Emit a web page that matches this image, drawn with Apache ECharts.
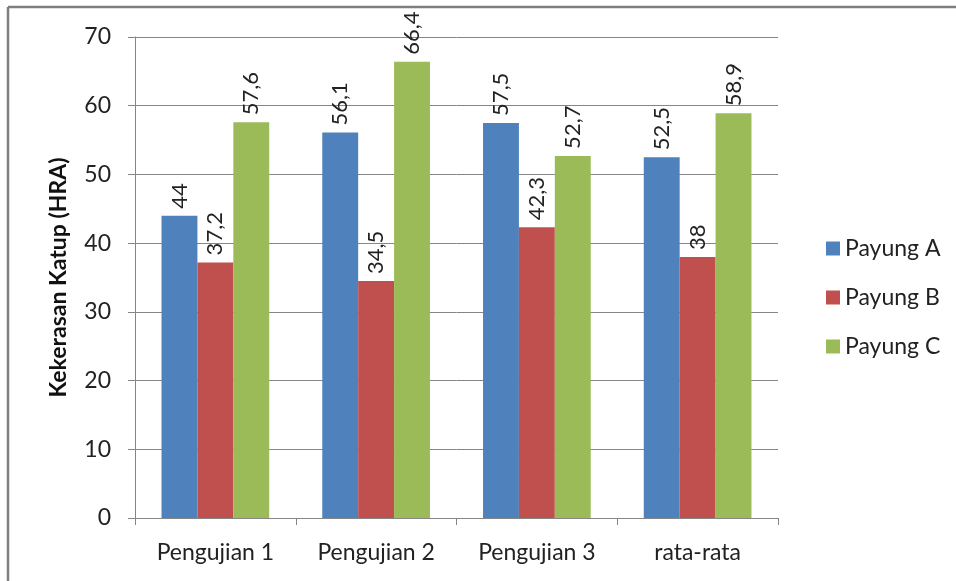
<!DOCTYPE html>
<html>
<head>
<meta charset="utf-8">
<script src="https://cdn.jsdelivr.net/npm/echarts@6/dist/echarts.min.js"></script>
<style>
  html, body { margin: 0; padding: 0; background: #fff; }
  #chart { width: 956px; height: 581px; }
</style>
</head>
<body>
<div id="chart"></div>
<script>
// Hardness of valves per test round
const categories = ['Pengujian 1', 'Pengujian 2', 'Pengujian 3', 'rata-rata'];
const payungA = [44, 56.1, 57.5, 52.5];
const payungB = [37.2, 34.5, 42.3, 38];
const payungC = [57.6, 66.4, 52.7, 58.9];
const seriesNames = ['Payung A', 'Payung B', 'Payung C'];
const seriesColors = ['#4F81BD', '#C0504D', '#9BBB59'];
const yTicks = { min: 0, max: 70, interval: 10 };

const FONT = 'Lato, "Open Sans", sans-serif';
const axisGray = '#868686';

function barSeries(name, data, color) {
  return {
    name: name,
    type: 'bar',
    data: data,
    barGap: '0%',
    barCategoryGap: '33%',
    itemStyle: { color: color },
    label: {
      show: true,
      position: 'top',
      rotate: 90,
      align: 'left',
      verticalAlign: 'middle',
      distance: 7,
      fontFamily: FONT,
      fontSize: 22,
      color: '#222',
      formatter: p => String(p.value).replace('.', ',')
    }
  };
}

const chart = echarts.init(document.getElementById('chart'), null, { renderer: 'canvas' });
chart.setOption({
  animation: false,
  backgroundColor: '#fff',
  textStyle: { fontFamily: FONT },
  grid: { left: 135, right: 178, top: 37, bottom: 63 },
  legend: {
    orient: 'vertical',
    left: 821,
    top: 232,
    itemWidth: 14,
    itemHeight: 14,
    itemGap: 26,
    icon: 'rect',
    textStyle: { fontFamily: FONT, fontSize: 23, color: '#222', padding: [0, 0, 0, 0] },
    data: seriesNames
  },
  xAxis: {
    type: 'category',
    data: categories,
    axisLine: { lineStyle: { color: axisGray, width: 1 } },
    axisTick: { show: true, length: 7, alignWithLabel: false, lineStyle: { color: axisGray } },
    axisLabel: { fontFamily: FONT, fontSize: 23, color: '#222', margin: 23 }
  },
  yAxis: {
    type: 'value',
    min: yTicks.min,
    max: yTicks.max,
    interval: yTicks.interval,
    name: 'Kekerasan Katup (HRA)',
    nameLocation: 'middle',
    nameGap: 65,
    nameTextStyle: { fontFamily: FONT, fontSize: 23, fontWeight: 'bold', color: '#111' },
    axisLine: { show: true, lineStyle: { color: axisGray, width: 1 } },
    axisTick: { show: true, length: 7, lineStyle: { color: axisGray } },
    axisLabel: { fontFamily: FONT, fontSize: 23, color: '#222', margin: 24 },
    splitLine: { show: true, lineStyle: { color: axisGray, width: 1 } }
  },
  series: [
    barSeries(seriesNames[0], payungA, seriesColors[0]),
    barSeries(seriesNames[1], payungB, seriesColors[1]),
    barSeries(seriesNames[2], payungC, seriesColors[2])
  ],
  graphic: [
    // frame edges along the top and left
    { type: 'line', shape: { x1: 8, y1: 7, x2: 956, y2: 7 }, style: { stroke: '#7f7f7f', lineWidth: 2.5 } },
    { type: 'line', shape: { x1: 8, y1: 7, x2: 8, y2: 581 }, style: { stroke: '#7f7f7f', lineWidth: 2.5 } }
  ]
});
</script>
</body>
</html>
